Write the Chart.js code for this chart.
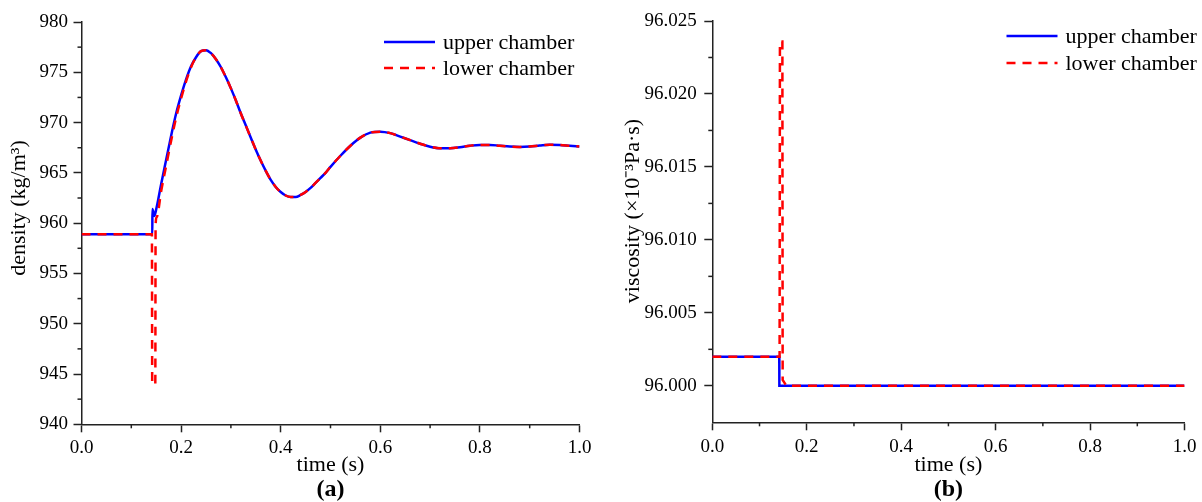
<!DOCTYPE html>
<html>
<head>
<meta charset="utf-8">
<script src="https://cdn.jsdelivr.net/npm/chart.js@4.4.0/dist/chart.umd.min.js"></script>
<style>
  html, body { margin: 0; padding: 0; background: #fff; }
  #wrap { position: relative; width: 1202px; height: 502px; }
  canvas { position: absolute; top: 0; }
  #chartDensity { left: 0; }
  #chartViscosity { left: 600px; }
</style>
</head>
<body>
<div id="wrap">
  <canvas id="chartDensity" width="600" height="502"></canvas>
  <canvas id="chartViscosity" width="602" height="502"></canvas>
</div>
<script>
// (a) density, kg/m3
const tDensUpper = [0, 0.1422, 0.1424, 0.1462, 0.151, 0.16, 0.17, 0.18, 0.19, 0.20, 0.21, 0.22, 0.23, 0.24, 0.25,
  0.26, 0.27, 0.28, 0.29, 0.30, 0.31, 0.32, 0.33, 0.34, 0.35, 0.36, 0.37, 0.38, 0.39, 0.40, 0.41, 0.42, 0.43,
  0.44, 0.45, 0.46, 0.47, 0.48, 0.49, 0.50, 0.52, 0.54, 0.56, 0.58, 0.60, 0.62, 0.64, 0.66, 0.68, 0.70, 0.72,
  0.74, 0.76, 0.78, 0.80, 0.82, 0.84, 0.86, 0.88, 0.90, 0.92, 0.94, 0.96, 0.98, 1.00];
const densUpper = [958.9, 958.9, 961.4, 960.7, 961.6, 963.9, 966.3, 968.7, 970.9, 972.7, 974.3, 975.6, 976.5, 977.1, 977.2,
  976.9, 976.3, 975.5, 974.5, 973.4, 972.2, 970.9, 969.7, 968.5, 967.3, 966.2, 965.2, 964.3, 963.6, 963.1, 962.75, 962.6, 962.6,
  962.8, 963.1, 963.5, 964.0, 964.5, 965.0, 965.6, 966.7, 967.7, 968.5, 969.0, 969.1, 968.95, 968.6, 968.25, 967.9, 967.6, 967.45,
  967.45, 967.55, 967.7, 967.78, 967.78, 967.7, 967.62, 967.58, 967.62, 967.72, 967.8, 967.78, 967.7, 967.62];

const tDensLower = [0, 0.1414, 0.1420, 0.1482, 0.1488, 0.151, 0.16, 0.17, 0.18, 0.19, 0.20, 0.21, 0.22, 0.23, 0.24, 0.25,
  0.26, 0.27, 0.28, 0.29, 0.30, 0.31, 0.32, 0.33, 0.34, 0.35, 0.36, 0.37, 0.38, 0.39, 0.40, 0.41, 0.42, 0.43,
  0.44, 0.45, 0.46, 0.47, 0.48, 0.49, 0.50, 0.52, 0.54, 0.56, 0.58, 0.60, 0.62, 0.64, 0.66, 0.68, 0.70, 0.72,
  0.74, 0.76, 0.78, 0.80, 0.82, 0.84, 0.86, 0.88, 0.90, 0.92, 0.94, 0.96, 0.98, 1.00];
const densLower = [958.9, 958.9, 944.0, 944.0, 959.8, 960.6, 963.2, 965.7, 968.2, 970.5, 972.4, 974.1, 975.5, 976.5, 977.1, 977.2,
  976.9, 976.3, 975.5, 974.5, 973.4, 972.2, 970.9, 969.7, 968.5, 967.3, 966.2, 965.2, 964.3, 963.6, 963.1, 962.75, 962.6, 962.6,
  962.8, 963.1, 963.5, 964.0, 964.5, 965.0, 965.6, 966.7, 967.7, 968.5, 969.0, 969.1, 968.95, 968.6, 968.25, 967.9, 967.6, 967.45,
  967.45, 967.55, 967.7, 967.78, 967.78, 967.7, 967.62, 967.58, 967.62, 967.72, 967.8, 967.78, 967.7, 967.62];

// (b) viscosity, x10^-3 Pa.s
const tViscUpper = [0, 0.1418, 0.1420, 1.0];
const viscUpper = [96.002, 96.002, 96.000, 96.000];
const tViscLower = [0, 0.1425, 0.1432, 0.1484, 0.1490, 0.157, 1.0];
const viscLower = [96.002, 96.002, 96.0236, 96.0236, 96.0004, 96.000, 96.000];

const seriesNames = ['upper chamber', 'lower chamber'];
const panelTags = ['(a)', '(b)'];

const SERIF = "'Liberation Serif', 'Times New Roman', serif";
Chart.defaults.color = '#000';
Chart.defaults.font.family = SERIF;

const pts = (xs, ys) => xs.map((x, i) => ({ x: x, y: ys[i] }));

// short ticks between the labelled ones
const minorTicks = {
  id: 'minorTicks',
  afterDraw(chart, args, opts) {
    const ctx = chart.ctx;
    ctx.save();
    ctx.strokeStyle = '#222';
    ctx.lineWidth = 1.5;
    ['x', 'y'].forEach(id => {
      const sc = chart.scales[id], step = opts[id];
      const n0 = Math.ceil(sc.min / step - 1e-6), n1 = Math.floor(sc.max / step + 1e-6);
      for (let n = n0; n <= n1; n++) {
        const v = n * step;
        if (sc.ticks.some(t => Math.abs(t.value - v) < step * 1e-3)) continue;
        const p = sc.getPixelForValue(v);
        ctx.beginPath();
        if (id === 'x') { ctx.moveTo(p, sc.top); ctx.lineTo(p, sc.top + opts.len); }
        else { ctx.moveTo(sc.right, p); ctx.lineTo(sc.right - opts.len, p); }
        ctx.stroke();
      }
    });
    ctx.restore();
  }
};

// legend with line samples inside the plot
const lineLegend = {
  id: 'lineLegend',
  afterDraw(chart, args, o) {
    const ctx = chart.ctx;
    ctx.save();
    ctx.font = o.font;
    ctx.textBaseline = 'middle';
    ctx.fillStyle = '#000';
    chart.data.datasets.forEach((ds, i) => {
      const y = o.y + i * o.rowGap;
      ctx.beginPath();
      ctx.setLineDash(ds.borderDash || []);
      ctx.strokeStyle = ds.borderColor;
      ctx.lineWidth = ds.borderWidth;
      ctx.moveTo(o.x, y);
      ctx.lineTo(o.x + o.lineLen, y);
      ctx.stroke();
      ctx.setLineDash([]);
      ctx.fillText(ds.label, o.x + o.lineLen + o.gap, y + 1);
    });
    ctx.restore();
  }
};

// rotated y axis title
const yTitle = {
  id: 'yTitle',
  afterDraw(chart, args, o) {
    const ctx = chart.ctx;
    ctx.save();
    ctx.translate(o.x, o.y);
    ctx.rotate(-Math.PI / 2);
    ctx.font = o.font;
    ctx.textAlign = 'center';
    ctx.textBaseline = 'middle';
    ctx.fillStyle = '#000';
    ctx.fillText(o.text, 0, 0);
    ctx.restore();
  }
};

function makeDatasets(upper, lower) {
  return [{
    label: seriesNames[0],
    data: upper,
    borderColor: '#0000ff',
    borderWidth: 2.5,
    pointRadius: 0,
    order: 2
  }, {
    label: seriesNames[1],
    data: lower,
    borderColor: '#ff0000',
    borderWidth: 2.5,
    borderDash: [9, 7],
    pointRadius: 0,
    order: 1
  }];
}

function makeChart(id, cfg) {
  const isMajor = v => Math.abs(v / cfg.yStep - Math.round(v / cfg.yStep)) < 1e-6;
  return new Chart(document.getElementById(id), {
    type: 'line',
    data: { datasets: cfg.datasets },
    plugins: [minorTicks, lineLegend, yTitle],
    options: {
      responsive: false,
      animation: false,
      cubicInterpolationMode: cfg.smooth ? 'monotone' : 'default',
      tension: 0,
      layout: { padding: { top: cfg.padTop, right: cfg.padRight, left: 0, bottom: 0 } },
      scales: {
        x: {
          type: 'linear',
          min: 0, max: 1,
          afterFit: s => { s.height = cfg.xHeight; },
          border: { display: true, color: '#222', width: 1.5 },
          grid: { drawOnChartArea: false, tickLength: 8, tickWidth: 1.5, tickColor: '#222' },
          ticks: { stepSize: 0.2, padding: cfg.xPad, font: { size: 19 }, color: '#000',
            callback: v => v.toFixed(1) },
          title: { display: true, text: 'time (s)', font: { size: 22 }, padding: { top: 0, bottom: 0 } }
        },
        y: {
          min: cfg.yMin, max: cfg.yMax,
          afterFit: s => { s.width = cfg.yWidth; },
          border: { display: true, color: '#222', width: 1.5 },
          grid: { drawOnChartArea: false, tickLength: 8, tickWidth: 1.5,
            tickColor: c => (c.tick && isMajor(c.tick.value)) ? '#222' : 'rgba(0,0,0,0)' },
          ticks: { stepSize: cfg.yStep, padding: cfg.yPad, font: { size: 19 }, color: '#000',
            callback: v => isMajor(v) ? v.toFixed(cfg.yDigits) : '' }
        }
      },
      plugins: {
        legend: { display: false },
        tooltip: { enabled: false },
        title: { display: true, position: 'bottom', fullSize: false, text: cfg.tag,
          font: { size: 24, weight: 'bold', lineHeight: 1 }, padding: 0, color: '#000' },
        minorTicks: { x: 0.1, y: cfg.yMinor, len: 4 },
        lineLegend: Object.assign({ font: '22px ' + SERIF, lineLen: 51, gap: 8 }, cfg.legend),
        yTitle: Object.assign({ font: '22px ' + SERIF }, cfg.yTitle)
      }
    }
  });
}

makeChart('chartDensity', {
  datasets: makeDatasets(pts(tDensUpper, densUpper), pts(tDensLower, densLower)),
  smooth: true,
  tag: panelTags[0],
  padTop: 22, padRight: 20.5,
  xHeight: 53.7, yWidth: 81.5, xPad: 4, yPad: 5.5,
  yMin: 940, yMax: 980, yStep: 5, yMinor: 2.5, yDigits: 0,
  legend: { x: 384, y: 42, rowGap: 26 },
  yTitle: { x: 19, y: 208, text: 'density (kg/m³)' }
});

makeChart('chartViscosity', {
  datasets: makeDatasets(pts(tViscUpper, viscUpper), pts(tViscLower, viscLower)),
  smooth: false,
  tag: panelTags[1],
  padTop: 21, padRight: 13,
  xHeight: 55.7, yWidth: 112.3, xPad: 5.6, yPad: 7.6,
  yMin: 95.9975, yMax: 96.025, yStep: 0.005, yMinor: 0.0025, yDigits: 3,
  legend: { x: 406.5, y: 36, rowGap: 27 },
  yTitle: { x: 33, y: 211, text: 'viscosity (×10⁻³Pa·s)' }
});
</script>
</body>
</html>
